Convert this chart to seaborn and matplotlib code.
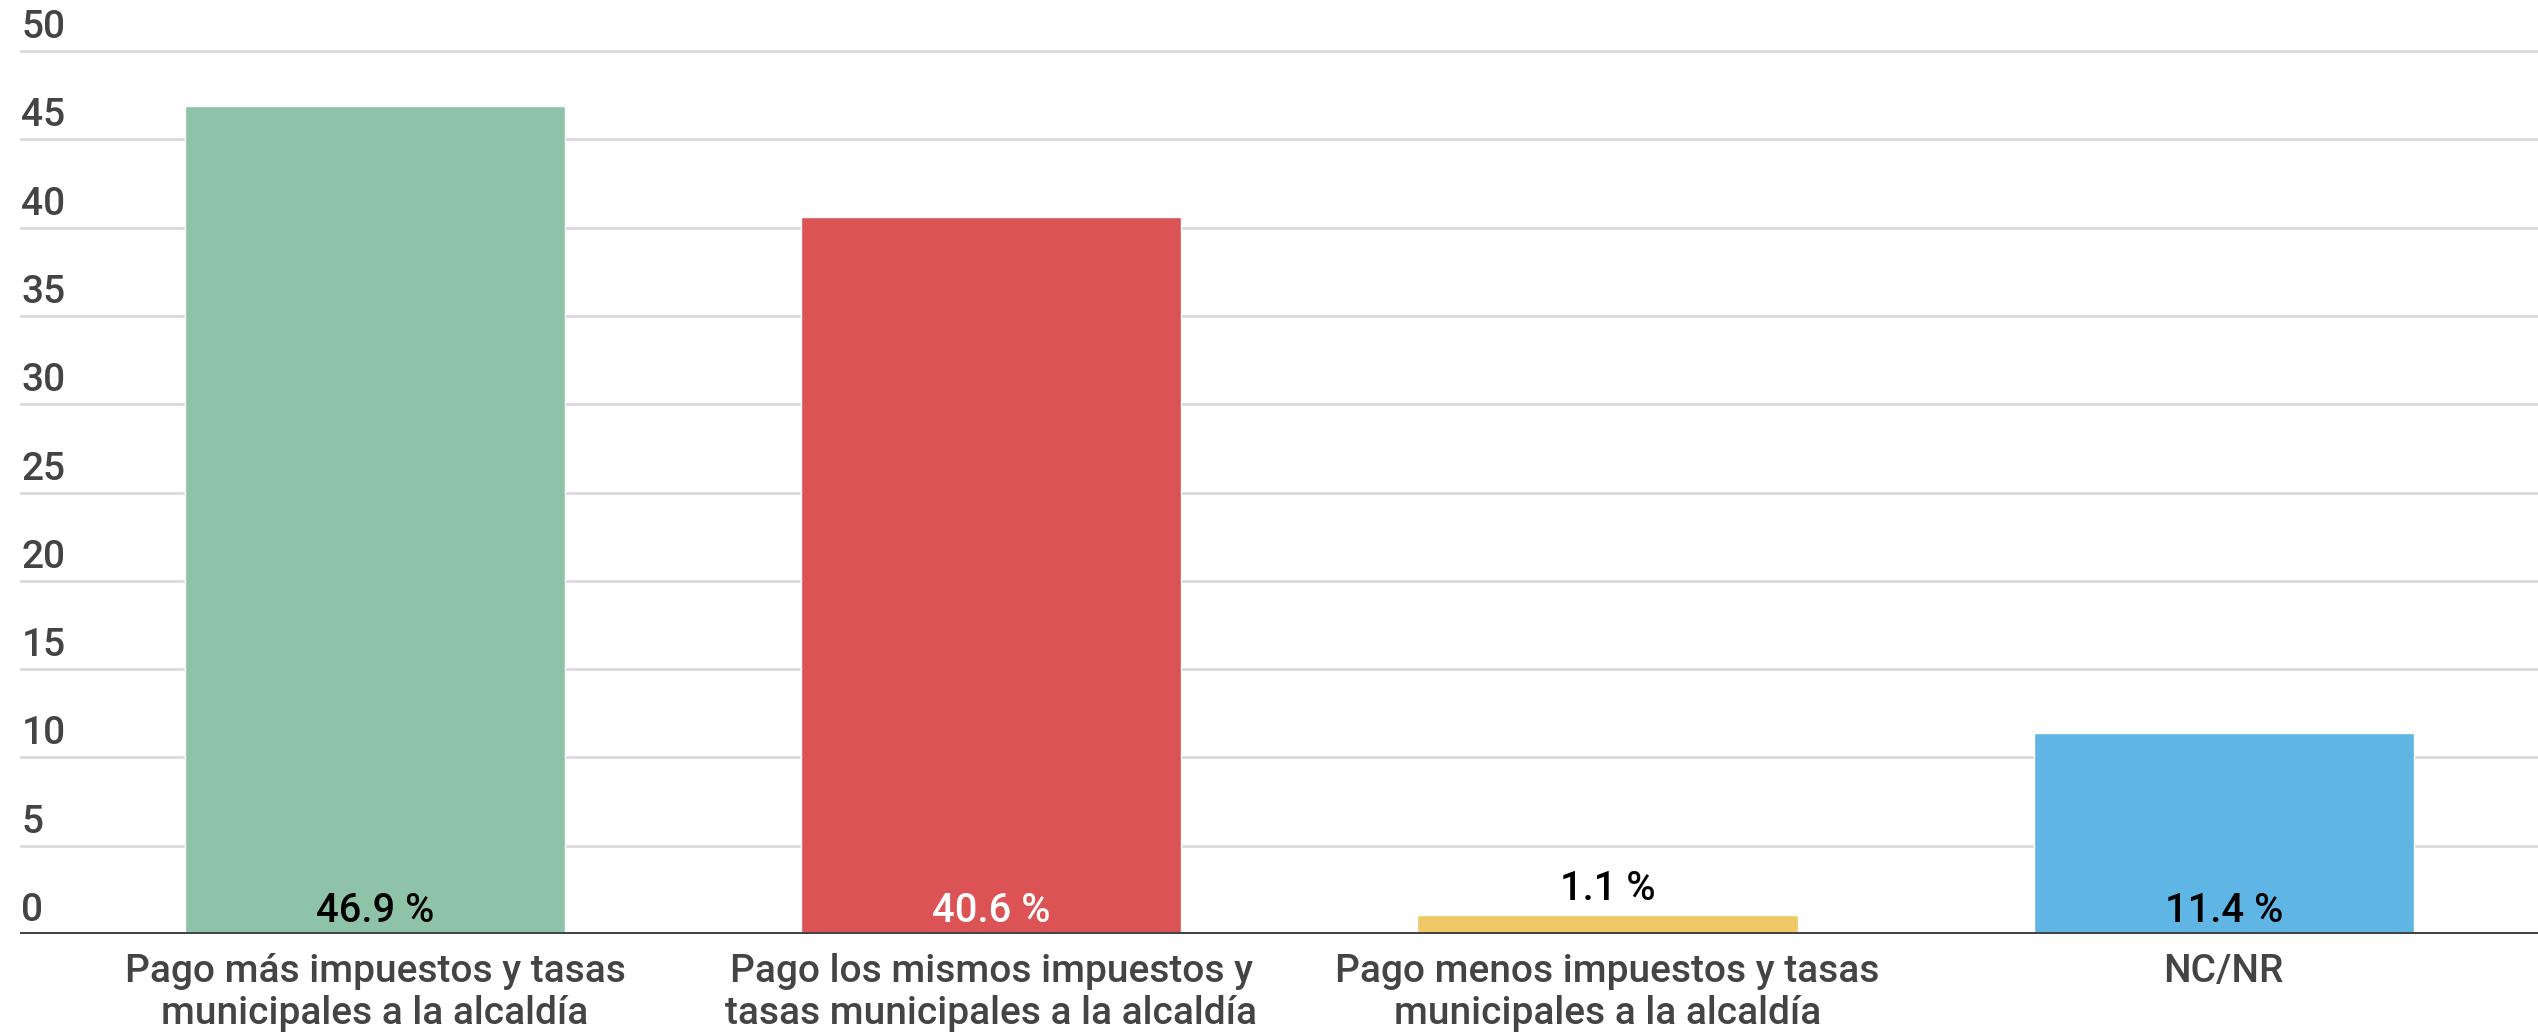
import matplotlib
matplotlib.use("Agg")
import matplotlib.pyplot as plt
import seaborn as sns
import pandas as pd

categories = [
    "Pago más impuestos y tasas\nmunicipales a la alcaldía",
    "Pago los mismos impuestos y\ntasas municipales a la alcaldía",
    "Pago menos impuestos y tasas\nmunicipales a la alcaldía",
    "NC/NR",
]
values = [46.9, 40.6, 1.1, 11.4]
value_labels = ["46.9 %", "40.6 %", "1.1 %", "11.4 %"]
label_colors = ["#000000", "#FFFFFF", "#000000", "#000000"]
bar_colors = ["#8EC3A7", "#DC5356", "#EEC966", "#5FB5E4"]
yticks = [0, 5, 10, 15, 20, 25, 30, 35, 40, 45, 50]

sns.set_theme(style="white")
plt.rcParams["font.family"] = ["Roboto", "DejaVu Sans"]

W, H, DPI = 2538, 1035, 100
fig = plt.figure(figsize=(W / DPI, H / DPI), dpi=DPI)
ax_left = 20 / W
ax_bottom = (H - 934) / H
ax = fig.add_axes([ax_left, ax_bottom, 1 - ax_left, 1 - ax_bottom])

df = pd.DataFrame({"cat": categories, "val": values})
sns.barplot(data=df, x="cat", y="val", hue="cat", palette=bar_colors,
            width=0.617, legend=False, ax=ax, saturation=1, zorder=3)

ax.set_xlim(-0.576, 3.51)
ax.set_ylim(0, 52.9)

# gridlines
for v in yticks[1:]:
    ax.axhline(v, color="#D9D9D9", lw=1.9, zorder=1)
ax.axhline(0, color="#444444", lw=3.6, zorder=5)

for s in ax.spines.values():
    s.set_visible(False)

ax.set_yticks(yticks)
ax.set_yticklabels([])
ax.tick_params(axis="y", length=0)
for v in yticks:
    ax.annotate(str(v), xy=(0, v), xycoords=("axes fraction", "data"),
                xytext=(1, 9.4), textcoords="offset points",
                ha="left", va="baseline", fontsize=28, color="#444444",
                fontweight=500)

ax.tick_params(axis="x", length=0, pad=14, labelsize=28, labelcolor="#444444")
for t in ax.get_xticklabels():
    t.set_linespacing(1.15)
    t.set_fontweight(500)
ax.set_xlabel("")
ax.set_ylabel("")

for i, (v, lab, c) in enumerate(zip(values, value_labels, label_colors)):
    if v < 5:
        ax.annotate(lab, xy=(i, v), xytext=(0, 10.5), textcoords="offset points",
                    ha="center", va="baseline", fontsize=28.7, color=c,
                    fontweight=500, zorder=6)
    else:
        ax.annotate(lab, xy=(i, 0), xytext=(0, 8.9), textcoords="offset points",
                    ha="center", va="baseline", fontsize=28.7, color=c,
                    fontweight=500, zorder=6)

fig.savefig("out.png", dpi=DPI)
